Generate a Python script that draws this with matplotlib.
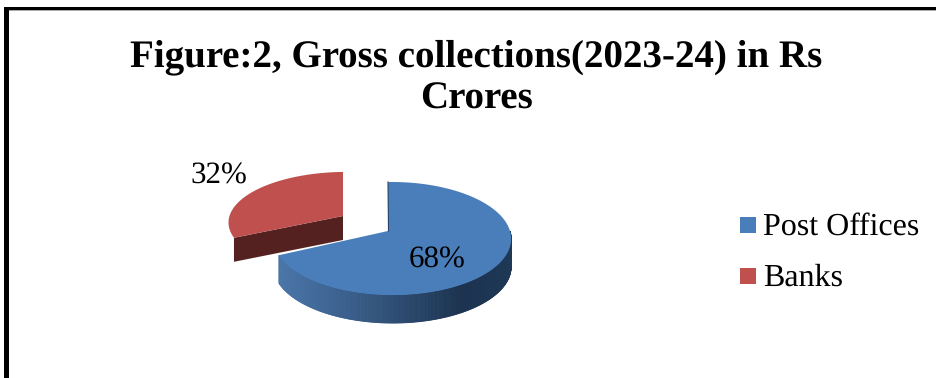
import numpy as np
import matplotlib
matplotlib.use("Agg")
import matplotlib.pyplot as plt
from matplotlib.colors import LinearSegmentedColormap
from matplotlib.patches import Polygon, Rectangle

plt.rcParams["text.hinting"] = "no_hinting"
plt.rcParams["text.hinting_factor"] = 1

title = "Figure:2, Gross collections(2023-24) in Rs\nCrores"
categories = ["Post Offices", "Banks"]
values = [68, 32]

BLUE = "#4a7ebb"
RED = "#c0504d"
RED_CUT = "#552120"

# pie centre and tilt, in pixels
CX, CY = 388, 231
RX, RY = 117.6, 55.5
PERSP, SKEW = 0.133, -0.036
BLUE_DEPTH = 28
RED_DEPTH = 24
RED_SHIFT = (-45, -15)
RED_SQUASH = 0.9


def project(theta):
    # theta runs clockwise from 12 o'clock
    s, t = np.sin(theta), np.cos(theta)
    d = 1 + PERSP * t + SKEW * s
    return CX + RX * s / d, CY - RY * t / d


fig = plt.figure(figsize=(9.37, 3.78), dpi=100)
ax = fig.add_axes([0, 0, 1, 1])
ax.set_xlim(0, 937)
ax.set_ylim(378, 0)
ax.axis("off")

# border around the chart, open at the bottom
ax.add_patch(Rectangle((4, 7), 5.5, 371, color="#999999", lw=0))
ax.add_patch(Rectangle((4, 7), 933, 4, color="#aaaaaa", lw=0))
ax.add_patch(Rectangle((4, 7), 4.7, 371, color="black", lw=0))
ax.add_patch(Rectangle((4, 7), 933, 3.2, color="black", lw=0))

ax.text(476.5, 78, title, ha="center", va="center", fontsize=27.85,
        fontweight="bold", family="Liberation Serif", linespacing=1.24)

fractions = np.array(values) / sum(values)
blue_end = 2 * np.pi * fractions[0]

# outer wall of the big slice, darkening towards the right
wall = LinearSegmentedColormap.from_list(
    "wall", [(0, "#4a76a8"), (0.3, "#3a5f8c"), (0.78, "#1c3350"), (1, "#1e3856")])
th = np.linspace(np.pi / 2, blue_end, 300)
xs, ys = project(th)
x_min, x_max = xs.min(), xs.max()
for i in range(len(th) - 1):
    quad = [(xs[i], ys[i]), (xs[i + 1], ys[i + 1]),
            (xs[i + 1], ys[i + 1] + BLUE_DEPTH), (xs[i], ys[i] + BLUE_DEPTH)]
    col = wall((xs[i] - x_min) / (x_max - x_min))
    ax.add_patch(Polygon(quad, closed=True, fc=col, ec=col, lw=0.6))

# top face of the big slice
th = np.linspace(0, blue_end, 200)
xs, ys = project(th)
ax.add_patch(Polygon(np.column_stack([np.r_[CX, xs], np.r_[CY, ys]]), closed=True, fc=BLUE, ec="none"))
ax.plot([CX, CX + 0.5], [CY - 49, CY], color="#2a4565", lw=0.8)

# exploded slice: cut face first, then the top
th = np.linspace(blue_end, 2 * np.pi, 120)
xs, ys = project(th)
xs = xs + RED_SHIFT[0]
ys = CY + RED_SHIFT[1] + (ys - CY) * RED_SQUASH
ax_r, ay_r = CX + RED_SHIFT[0], CY + RED_SHIFT[1]
ax.add_patch(Polygon([(ax_r, ay_r), (xs[0], ys[0]), (xs[0], ys[0] + RED_DEPTH), (ax_r, ay_r + RED_DEPTH)],
                     closed=True, fc=RED_CUT, ec="none"))
ax.add_patch(Polygon(np.column_stack([np.r_[ax_r, xs], np.r_[ay_r, ys]]), closed=True, fc=RED, ec="none"))

# value labels
ax.text(437, 260, f"{values[0]}%", ha="center", va="center", fontsize=22.5, family="Liberation Serif")
ax.text(218.5, 176, f"{values[1]}%", ha="center", va="center", fontsize=22.5, family="Liberation Serif")

# legend
for name, col, y in zip(categories, [BLUE, RED], [225, 276]):
    ax.add_patch(Rectangle((740, y - 8), 16, 16, color=col, lw=0))
    ax.text(763, y + 2, name, ha="left", va="center", fontsize=22.9, family="Liberation Serif")

fig.savefig("out.png", dpi=100)
